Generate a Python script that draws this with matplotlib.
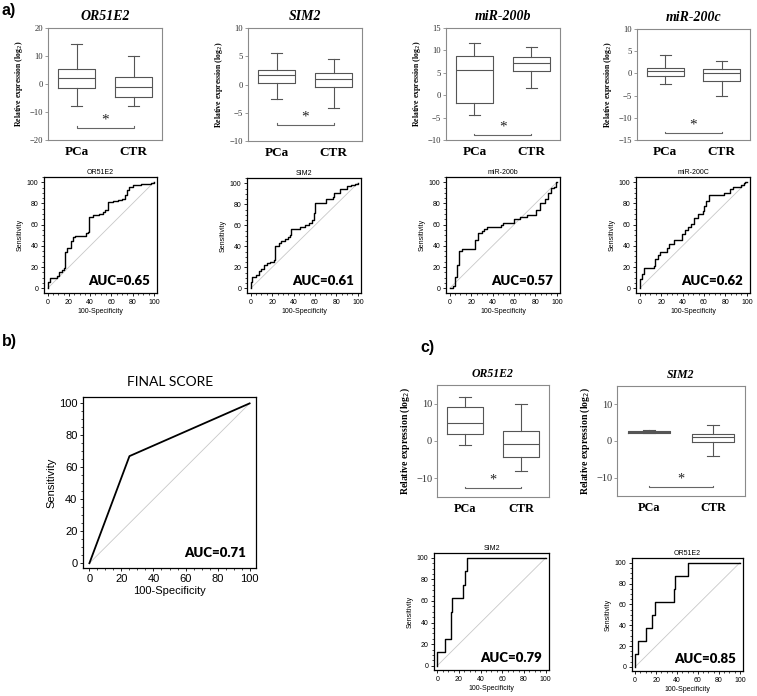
import matplotlib
matplotlib.use('Agg')
import matplotlib.pyplot as plt
from matplotlib.ticker import MultipleLocator

W, H = 757, 696
plt.rcParams['font.family'] = ['Liberation Sans', 'DejaVu Sans']

groups = ['PCa', 'CTR']

# boxplot stats: whisker low, q1, median, q3, whisker high
box_a_genes = ['OR51E2', 'SIM2', 'miR-200b', 'miR-200c']
box_a_pca = [[-8.0, -1.3, 2.2, 5.3, 14.2],
             [-2.5, 0.3, 1.6, 2.5, 5.6],
             [-4.5, -1.7, 5.6, 8.7, 11.7],
             [-2.5, -0.6, 0.6, 1.3, 4.1]]
box_a_ctr = [[-7.8, -4.5, -1.0, 2.5, 10.0],
             [-4.2, -0.5, 1.0, 2.1, 4.6],
             [1.5, 5.4, 7.2, 8.5, 10.7],
             [-5.1, -1.6, 0.1, 0.9, 2.8]]
box_a_ylim = [(-20, 20), (-10, 10), (-10, 15), (-15, 10)]
box_a_ystep = [10, 5, 5, 5]
box_a_sig = [-15.6, -7.1, -8.9, -13.5]

box_c_genes = ['OR51E2', 'SIM2']
box_c_pca = [[-1.0, 1.8, 4.9, 9.0, 11.7],
             [2.1, 2.2, 2.5, 2.8, 2.9]]
box_c_ctr = [[-8.0, -4.3, -0.8, 2.7, 10.0],
             [-4.2, -0.4, 1.0, 2.0, 4.5]]
box_c_ylim = [(-15, 15), (-15, 15)]
box_c_sig = [-12.6, -12.5]

# ROC curves (100-specificity, sensitivity), step points
roc_a_titles = ['OR51E2', 'SIM2', 'miR-200b', 'miR-200C']
roc_a_auc = ['0.65', '0.61', '0.57', '0.62']
roc_a_fpr = [
    [0, 0, 2, 9, 11, 13, 15, 16, 18, 22, 24, 26, 36, 38, 39, 43, 48, 52, 54, 57, 62, 66, 70, 73, 75, 77, 80, 88, 97, 100],
    [0, 0, 1.5, 4.5, 8, 10, 12, 15, 18, 22, 23, 26, 28, 32, 35, 37, 38, 46, 51, 54, 57, 59, 60, 70, 77, 78, 83, 90, 94, 97, 100],
    [0, 3, 5, 7, 9, 11, 24, 26, 30, 32, 35, 48, 50, 60, 66, 72, 81, 84, 89, 92, 95, 97, 99, 100],
    [0, 0, 2, 4, 13, 14.5, 17, 18.5, 25.5, 27, 32, 39.5, 42.5, 45.5, 48, 51, 54, 59, 60, 62, 65, 79, 84, 87.5, 94.5, 97, 98.5, 100],
]
roc_a_tpr = [
    [0, 6, 10, 12, 15, 17, 19, 34, 38, 45, 48, 49, 52, 53, 67, 69, 70, 72, 74, 81, 82, 83, 84, 88, 93, 96, 97, 98, 99, 100],
    [0, 6, 11, 13, 16, 18, 22, 24, 25, 27, 40, 43, 45, 47, 49, 51, 56, 58, 60, 62, 65, 72, 81, 85, 87, 91, 95, 97, 98, 99, 100],
    [0, 2, 11, 22, 35, 37, 46, 52, 54, 56, 58, 60, 62, 65, 67, 69, 74, 80, 84, 90, 95, 96, 100, 100],
    [0, 9, 13, 19, 21, 28, 31, 34, 38, 42, 46, 51, 55, 58, 61, 66, 70, 73, 78, 82, 88, 90, 94, 96, 97, 99, 100, 100],
]

final_fpr = [0, 25, 100]
final_tpr = [0, 67, 100]
final_auc = '0.71'

roc_c_titles = ['SIM2', 'OR51E2']
roc_c_auc = ['0.79', '0.85']
roc_c_fpr = [[0, 0, 7, 12.5, 14, 23.5, 25.5, 27.5, 100],
             [0, 0, 3, 10, 16.5, 18.5, 37, 38.5, 50.5, 100]]
roc_c_tpr = [[0, 12.5, 25, 50, 62.5, 75, 87.5, 100, 100],
             [0, 12.5, 25, 37.5, 50, 62.5, 75, 87.5, 100, 100]]

fig = plt.figure(figsize=(W / 100, H / 100), dpi=100)


def rect(x0, y0, x1, y1):
    return [x0 / W, 1 - y1 / H, (x1 - x0) / W, (y1 - y0) / H]


def box_panel(r, pca, ctr, gene, ylim, step, sig, fs_title, fs_tick, fs_lab, fs_grp):
    ax = fig.add_axes(r)
    stats = []
    for g, s in zip(groups, [pca, ctr]):
        stats.append(dict(whislo=s[0], q1=s[1], med=s[2], q3=s[3], whishi=s[4], label=g))
    lc = '#555555'
    ax.bxp(stats, positions=[1, 2], widths=0.66, showfliers=False, capwidths=0.2,
           boxprops=dict(color=lc, lw=0.8), whiskerprops=dict(color=lc, lw=0.8),
           capprops=dict(color=lc, lw=0.8), medianprops=dict(color=lc, lw=0.8))
    ax.set_xlim(0.5, 2.5)
    ax.set_ylim(*ylim)
    ax.yaxis.set_major_locator(MultipleLocator(step))
    for sp in ax.spines.values():
        sp.set_color('#8a8a8a')
        sp.set_linewidth(0.8)
    ax.tick_params(axis='y', length=2, width=0.6, color='#8a8a8a', pad=1.5,
                   labelsize=fs_tick, labelcolor='#333333')
    ax.tick_params(axis='x', length=0, pad=4)
    for t in ax.get_yticklabels():
        t.set_fontfamily('Liberation Serif')
    ax.set_xticks([1, 2])
    ax.set_xticklabels(groups, fontfamily='Liberation Serif', fontweight='bold', fontsize=fs_grp)
    ax.set_title(gene, fontfamily='Liberation Serif', fontweight='bold', fontstyle='italic',
                 fontsize=fs_title, pad=6)
    ax.set_ylabel('Relative expression (log$_2$)', fontfamily='Liberation Serif',
                  fontweight='bold', fontsize=fs_lab, labelpad=3)
    # significance bracket
    span = ylim[1] - ylim[0]
    ax.plot([1, 1, 2, 2], [sig + span * 0.012, sig, sig, sig + span * 0.012], color='#666666', lw=0.8)
    ax.annotate('*', (1.5, sig), xytext=(0, 1), textcoords='offset points', ha='center', va='bottom',
                fontfamily='Liberation Serif', fontsize=fs_grp + 1.5, color='#222222')
    return ax


def roc_panel(r, fpr, tpr, title, auc, xlim, ylim, fs_tick, fs_lab, fs_title, fs_auc, steps=True):
    ax = fig.add_axes(r)
    ax.plot([0, 100], [0, 100], color='#c8c8c8', lw=0.6)
    if steps:
        ax.step(fpr, tpr, where='post', color='black', lw=1.0)
    else:
        ax.plot(fpr, tpr, color='black', lw=1.3)
    ax.set_xlim(*xlim)
    ax.set_ylim(*ylim)
    ax.xaxis.set_major_locator(MultipleLocator(20))
    ax.yaxis.set_major_locator(MultipleLocator(20))
    ax.xaxis.set_minor_locator(MultipleLocator(5))
    ax.yaxis.set_minor_locator(MultipleLocator(5))
    for sp in ax.spines.values():
        sp.set_linewidth(0.9)
    ax.tick_params(which='major', length=2.5, width=0.6, pad=1.5, labelsize=fs_tick)
    ax.tick_params(which='minor', length=1.3, width=0.5)
    ax.set_xlabel('100-Specificity', fontsize=fs_lab, labelpad=1.5)
    ax.set_ylabel('Sensitivity', fontsize=fs_lab, labelpad=2)
    ax.set_title(title, fontsize=fs_title, pad=2)
    ax.text(0.94, 0.05, 'AUC=' + auc, transform=ax.transAxes, ha='right', va='bottom',
            fontfamily='Lato', fontweight='heavy', fontsize=fs_auc)
    return ax


# a) boxplots
box_rects = [(48, 28, 162, 140), (248, 28, 362, 141), (446, 28, 560, 140), (637, 29, 750, 140)]
for i in range(4):
    box_panel(rect(*box_rects[i]), box_a_pca[i], box_a_ctr[i], box_a_genes[i], box_a_ylim[i],
              box_a_ystep[i], box_a_sig[i], 10, 6.2, 5.6, 9.5)

# a) ROC curves
roc_rects = [(44, 177, 157, 293), (247, 178, 361, 293), (446, 177, 560, 293), (636, 177, 750, 293)]
for i in range(4):
    roc_panel(rect(*roc_rects[i]), roc_a_fpr[i], roc_a_tpr[i], roc_a_titles[i], roc_a_auc[i],
              (-3.5, 103), (-4.5, 105), 5, 5, 5, 9.5)

# b) final score
roc_panel(rect(83, 397, 256, 568), final_fpr, final_tpr, '', final_auc, (-4, 104), (-3, 104),
          8, 8, 9.5, 9.5, steps=False)
fig.text(170 / W, 1 - 382 / H, 'FINAL SCORE', fontfamily='Lato', fontsize=10, ha='center', va='center')

# c) boxplots
box_panel(rect(437, 385, 549, 497), box_c_pca[0], box_c_ctr[0], box_c_genes[0], box_c_ylim[0],
          10, box_c_sig[0], 8.5, 7.5, 7, 8.8)
box_panel(rect(617, 386, 745, 496), box_c_pca[1], box_c_ctr[1], box_c_genes[1], box_c_ylim[1],
          10, box_c_sig[1], 8.5, 7.5, 7, 8.8)

# c) ROC curves
roc_panel(rect(434, 553, 549, 670), roc_c_fpr[0], roc_c_tpr[0], roc_c_titles[0], roc_c_auc[0],
          (-3, 103), (-4, 104.5), 5, 5, 5, 9.5)
roc_panel(rect(632, 558, 743, 671), roc_c_fpr[1], roc_c_tpr[1], roc_c_titles[1], roc_c_auc[1],
          (-3, 103), (-4, 104.5), 5, 5, 5, 9.5)

# panel letters
fig.text(2 / W, 1 - 3 / H, 'a)', fontsize=11.5, fontweight='bold', va='top')
fig.text(2 / W, 1 - 334 / H, 'b)', fontsize=11.5, fontweight='bold', va='top')
fig.text(420 / W, 1 - 340 / H, 'c)', fontsize=11.5, fontweight='bold', va='top')

fig.savefig('out.png', dpi=100)
